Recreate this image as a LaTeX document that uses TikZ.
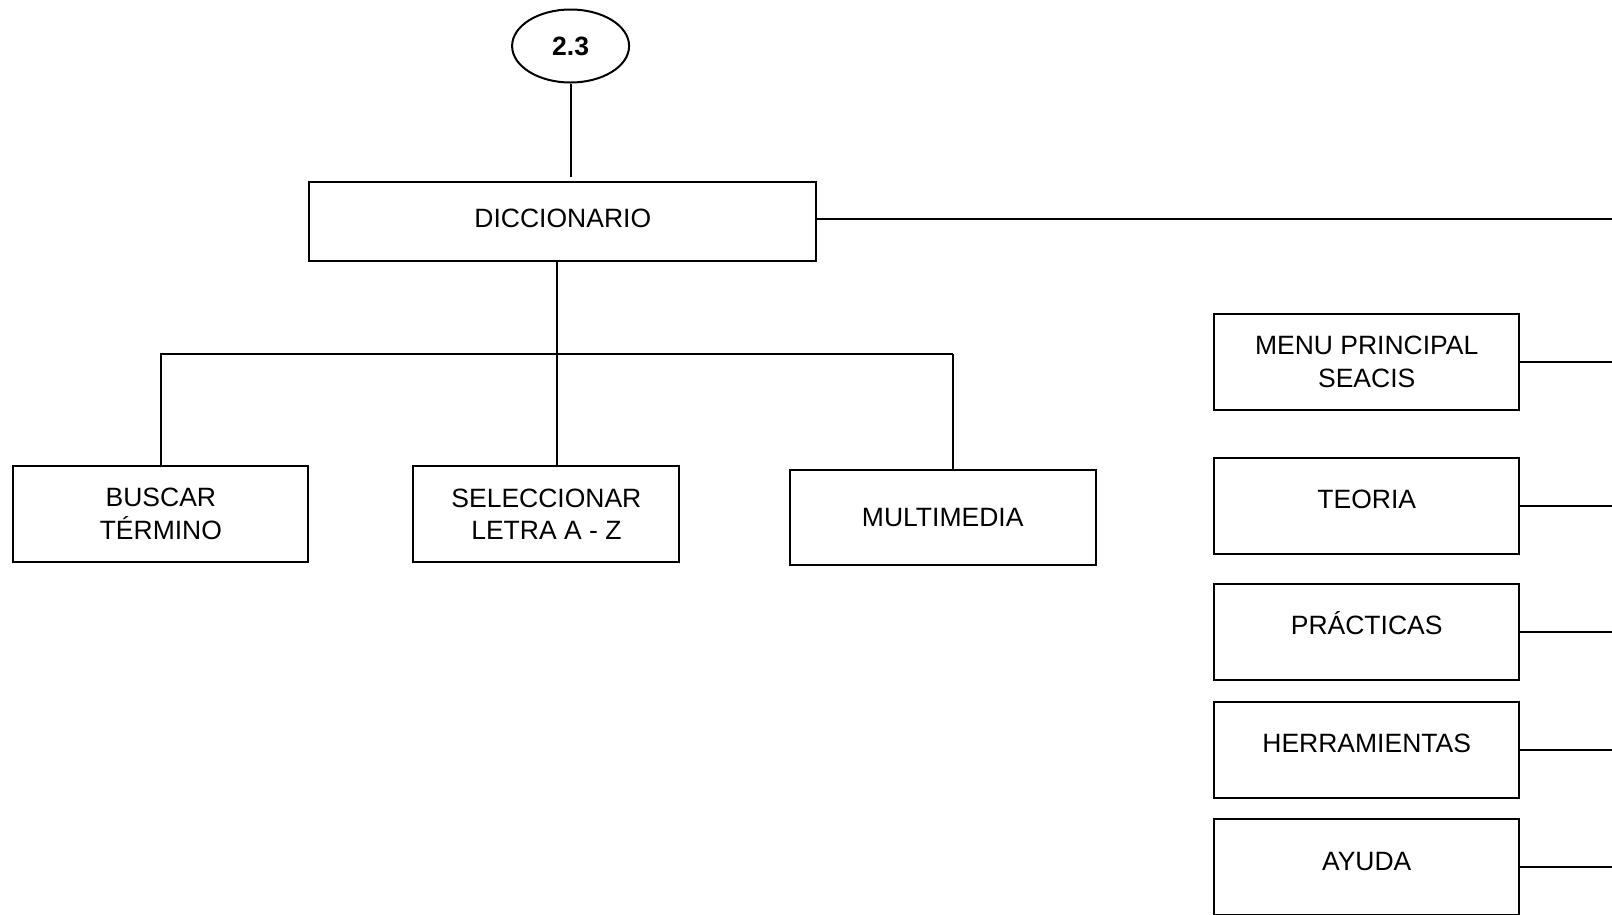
\documentclass[tikz,border=0pt]{standalone}
\usepackage{fontspec}
\setmainfont{Liberation Sans}
\usepackage{tikz}
\usetikzlibrary{shapes.geometric}
\tikzset{every node/.style={font=\fontsize{26.5}{32.5}\selectfont},
  box/.style={draw, rectangle, line width=2pt, align=center, inner sep=0pt},
  topbox/.style={box, text height=19.5pt, text depth=14pt}}

\begin{document}
\begin{tikzpicture}[x=1pt, y=-1pt, line width=2pt]
            \clip (0,0) rectangle (1612,914);
            \node[ellipse, draw, minimum width=117, minimum height=73] (ref) at (570.6,46) {\textbf{2.3}};
            \node[box, minimum width=507, minimum height=79, text height=19.5pt, text depth=8pt] (dicc) at (562.8,221.5) {DICCIONARIO};
            
            \node[box, minimum width=295, minimum height=96.6] (buscar) at (160.9,514) {BUSCAR\\TÉRMINO};
            \node[box, minimum width=266, minimum height=96.6] (letra) at (546.4,514) {SELECCIONAR\\LETRA A - Z};
            \node[box, minimum width=306, minimum height=95.6] (multi) at (942.7,517.6) {MULTIMEDIA};
            
            \node[box, minimum width=305, minimum height=96.6] (menu) at (1366.7,361.9) {MENU PRINCIPAL\\SEACIS};
            \node[topbox, minimum width=305, minimum height=96.6] (teoria) at (1366.7,505.8) {TEORIA};
            \node[topbox, minimum width=305, minimum height=95.6] (practicas) at (1366.7,631.7) {PRÁCTICAS};
            \node[topbox, minimum width=305, minimum height=95.6] (herram) at (1366.7,749.9) {HERRAMIENTAS};
            \node[topbox, minimum width=305, minimum height=96] (ayuda) at (1366.7,867.3) {AYUDA};
            
            \coordinate (bar) at (557,354);
            \coordinate (barend) at (953,354);
            \coordinate (rim) at (1612,0);
            
            \draw[shorten >=4pt] (ref) -- (ref |- dicc.north);
            \draw   ([yshift=2.5pt]dicc.east) -- ([yshift=2.5pt]dicc.east -| rim)
                    (dicc.south -| bar) -- (bar)
                    (buscar.north) -- (buscar.north |- bar) -- (barend)
                    (bar) -- (bar |- letra.north)
                    (barend) -- (barend |- multi.north);
            \foreach \n in {menu, teoria, practicas, herram, ayuda}
                \draw (\n.east) -- (\n.east -| rim);
        \end{tikzpicture}
\end{document}
